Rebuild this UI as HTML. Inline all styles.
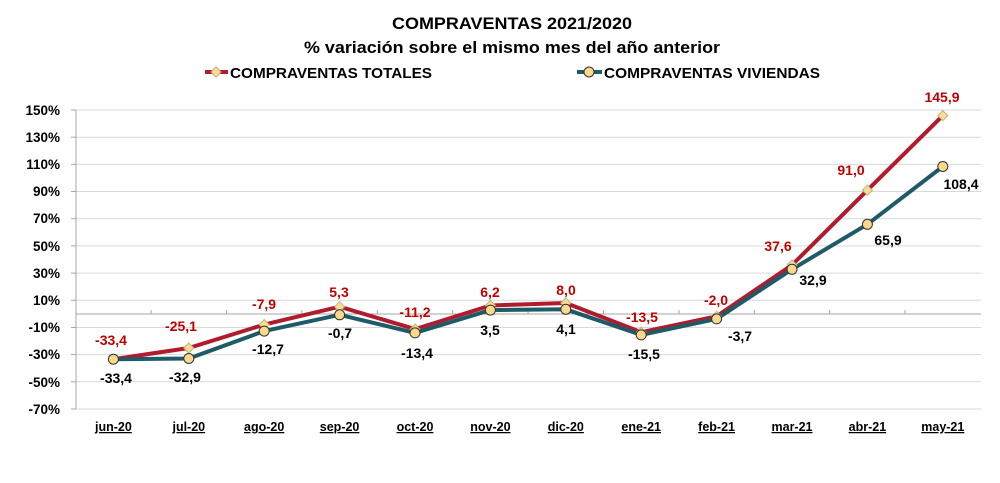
<!DOCTYPE html>
<html><head><meta charset="utf-8"><style>
html,body{margin:0;padding:0;background:#fff;}
svg{display:block;font-family:"Liberation Sans",sans-serif;font-weight:bold;}
</style></head><body>
<svg width="1000" height="483" viewBox="0 0 1000 483" xmlns="http://www.w3.org/2000/svg">
<rect width="1000" height="483" fill="#fff"/>
<text x="512" y="29" font-size="17" text-anchor="middle" textLength="240" lengthAdjust="spacingAndGlyphs">COMPRAVENTAS 2021/2020</text>
<text x="512" y="53" font-size="17" text-anchor="middle" textLength="416" lengthAdjust="spacingAndGlyphs">% variación sobre el mismo mes del año anterior</text>
<line x1="205" y1="72" x2="228" y2="72" stroke="#b01c2e" stroke-width="4"/>
<polygon points="216,67 221,72 216,77 211,72" fill="#f5de9a" stroke="#c8b070"/>
<text x="230" y="78" font-size="15" textLength="202" lengthAdjust="spacingAndGlyphs">COMPRAVENTAS TOTALES</text>
<line x1="577" y1="72" x2="602" y2="72" stroke="#1e5a68" stroke-width="4"/>
<circle cx="589" cy="72" r="5" fill="#fcd98a" stroke="#333"/>
<text x="604" y="78" font-size="15" textLength="216" lengthAdjust="spacingAndGlyphs">COMPRAVENTAS VIVIENDAS</text>
<g stroke="#d9d9d9" stroke-width="1">
<line x1="76" y1="110" x2="981" y2="110"/><line x1="76" y1="137.2" x2="981" y2="137.2"/><line x1="76" y1="164.4" x2="981" y2="164.4"/><line x1="76" y1="191.5" x2="981" y2="191.5"/><line x1="76" y1="218.7" x2="981" y2="218.7"/><line x1="76" y1="245.9" x2="981" y2="245.9"/><line x1="76" y1="273.1" x2="981" y2="273.1"/><line x1="76" y1="300.3" x2="981" y2="300.3"/><line x1="76" y1="327.5" x2="981" y2="327.5"/><line x1="76" y1="354.6" x2="981" y2="354.6"/><line x1="76" y1="381.8" x2="981" y2="381.8"/><line x1="76" y1="409" x2="981" y2="409"/>
</g>
<g stroke="#a6a6a6" stroke-width="1">
<line x1="76" y1="110" x2="76" y2="409"/>
<line x1="76" y1="314" x2="981" y2="314"/>
<line x1="71" y1="110" x2="76" y2="110"/><line x1="71" y1="137.2" x2="76" y2="137.2"/><line x1="71" y1="164.4" x2="76" y2="164.4"/><line x1="71" y1="191.5" x2="76" y2="191.5"/><line x1="71" y1="218.7" x2="76" y2="218.7"/><line x1="71" y1="245.9" x2="76" y2="245.9"/><line x1="71" y1="273.1" x2="76" y2="273.1"/><line x1="71" y1="300.3" x2="76" y2="300.3"/><line x1="71" y1="327.5" x2="76" y2="327.5"/><line x1="71" y1="354.6" x2="76" y2="354.6"/><line x1="71" y1="381.8" x2="76" y2="381.8"/><line x1="71" y1="409" x2="76" y2="409"/>
<line x1="151.1" y1="310" x2="151.1" y2="314"/><line x1="226.5" y1="310" x2="226.5" y2="314"/><line x1="301.9" y1="310" x2="301.9" y2="314"/><line x1="377.3" y1="310" x2="377.3" y2="314"/><line x1="452.7" y1="310" x2="452.7" y2="314"/><line x1="528.1" y1="310" x2="528.1" y2="314"/><line x1="603.5" y1="310" x2="603.5" y2="314"/><line x1="678.9" y1="310" x2="678.9" y2="314"/><line x1="754.3" y1="310" x2="754.3" y2="314"/><line x1="829.7" y1="310" x2="829.7" y2="314"/><line x1="905.1" y1="310" x2="905.1" y2="314"/>
</g>
<g font-size="13.5" text-anchor="end">
<text x="60" y="115">150%</text><text x="60" y="142">130%</text><text x="60" y="169">110%</text><text x="60" y="196">90%</text><text x="60" y="223">70%</text><text x="60" y="251">50%</text><text x="60" y="278">30%</text><text x="60" y="305">10%</text><text x="60" y="332">-10%</text><text x="60" y="359">-30%</text><text x="60" y="387">-50%</text><text x="60" y="414">-70%</text>
</g>
<g font-size="12.5" text-anchor="middle" text-decoration="underline">
<text x="113.4" y="431">jun-20</text><text x="188.8" y="431">jul-20</text><text x="264.2" y="431">ago-20</text><text x="339.6" y="431">sep-20</text><text x="415" y="431">oct-20</text><text x="490.4" y="431">nov-20</text><text x="565.8" y="431">dic-20</text><text x="641.2" y="431">ene-21</text><text x="716.6" y="431">feb-21</text><text x="792" y="431">mar-21</text><text x="867.4" y="431">abr-21</text><text x="942.8" y="431">may-21</text>
</g>
<polyline fill="none" stroke="#b01c2e" stroke-width="4" stroke-linejoin="round" points="113.4,359.2 188.8,348 264.2,324.6 339.6,306.7 415,329.1 490.4,305.5 565.8,303 641.2,332.2 716.6,316.3 792,265 867.4,190.2 942.8,115.6"/>
<polyline fill="none" stroke="#1e5a68" stroke-width="4" stroke-linejoin="round" points="113.4,359.2 188.8,358.5 264.2,331.1 339.6,314.8 415,332.9 490.4,310.1 565.8,309.3 641.2,334.9 716.6,318.9 792,269.3 867.4,224.3 942.8,166.5"/>
<g fill="#f5de9a" stroke="#c8b070">
<polygon points="188.8,343 193.8,348 188.8,353 183.8,348"/><polygon points="264.2,319.6 269.2,324.6 264.2,329.6 259.2,324.6"/><polygon points="339.6,301.7 344.6,306.7 339.6,311.7 334.6,306.7"/><polygon points="415,324.1 420,329.1 415,334.1 410,329.1"/><polygon points="490.4,300.5 495.4,305.5 490.4,310.5 485.4,305.5"/><polygon points="565.8,298 570.8,303 565.8,308 560.8,303"/><polygon points="641.2,327.2 646.2,332.2 641.2,337.2 636.2,332.2"/><polygon points="716.6,311.3 721.6,316.3 716.6,321.3 711.6,316.3"/><polygon points="792,260 797,265 792,270 787,265"/><polygon points="867.4,185.2 872.4,190.2 867.4,195.2 862.4,190.2"/><polygon points="942.8,110.6 947.8,115.6 942.8,120.6 937.8,115.6"/>
</g>
<g fill="#fcd98a" stroke="#333" stroke-width="1">
<circle cx="113.4" cy="359.2" r="5"/><circle cx="188.8" cy="358.5" r="5"/><circle cx="264.2" cy="331.1" r="5"/><circle cx="339.6" cy="314.8" r="5"/><circle cx="415" cy="332.9" r="5"/><circle cx="490.4" cy="310.1" r="5"/><circle cx="565.8" cy="309.3" r="5"/><circle cx="641.2" cy="334.9" r="5"/><circle cx="716.6" cy="318.9" r="5"/><circle cx="792" cy="269.3" r="5"/><circle cx="867.4" cy="224.3" r="5"/><circle cx="942.8" cy="166.5" r="5"/>
</g>
<g font-size="14" fill="#c00000" text-anchor="middle">
<text x="111" y="345">-33,4</text><text x="181" y="331">-25,1</text><text x="264" y="309">-7,9</text><text x="339" y="297">5,3</text><text x="415" y="317">-11,2</text><text x="490" y="297">6,2</text><text x="566" y="295">8,0</text><text x="642" y="322">-13,5</text><text x="716" y="305">-2,0</text><text x="778" y="251">37,6</text><text x="851" y="175">91,0</text><text x="942" y="102">145,9</text>
</g>
<g font-size="14" fill="#000" text-anchor="middle">
<text x="116" y="383">-33,4</text><text x="185" y="382">-32,9</text><text x="268" y="354">-12,7</text><text x="340" y="338">-0,7</text><text x="417" y="358">-13,4</text><text x="490" y="335">3,5</text><text x="566" y="334">4,1</text><text x="644" y="359">-15,5</text><text x="740" y="341">-3,7</text><text x="813" y="285">32,9</text><text x="888" y="245">65,9</text><text x="961" y="189">108,4</text>
</g>
</svg>
</body></html>
